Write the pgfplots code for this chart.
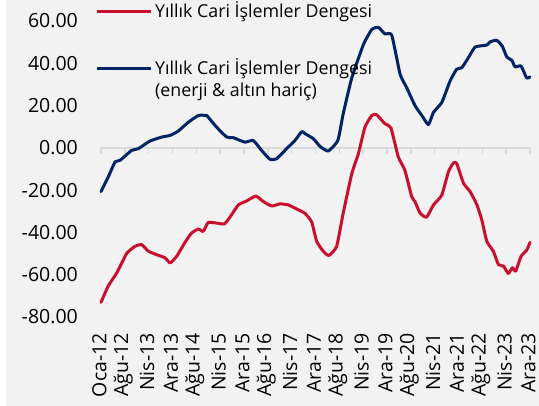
\documentclass[border=0pt]{standalone}
\usepackage{pgfplots}
\pgfplotsset{compat=1.18}
\usepackage{fontspec}
\setmainfont{Open Sans}
\definecolor{cabred}{RGB}{200,16,46}
\definecolor{cabblue}{RGB}{0,36,100}
\definecolor{bg}{RGB}{242,242,242}
\definecolor{zl}{RGB}{217,217,217}
\begin{document}
\begin{tikzpicture}[x=1pt,y=1pt]
\path[use as bounding box] (0,0) rectangle (539,406);
\fill[white] (0,0) rectangle (539,406);
\fill[bg] (6,0) rectangle (539,406);
\begin{axis}[
  at={(101pt,89pt)}, anchor=south west,
  scale only axis, width=429pt, height=296pt,
  xmin=0, xmax=144, ymin=-80, ymax=60,
  axis line style={draw=none},
  major tick length=0pt,
  xtick={0,8,...,144},
  xticklabels={Oca-12,Ağu-12,Nis-13,Ara-13,Ağu-14,Nis-15,Ara-15,Ağu-16,Nis-17,Ara-17,Ağu-18,Nis-19,Ara-19,Ağu-20,Nis-21,Ara-21,Ağu-22,Nis-23,Ara-23},
  xticklabel style={xshift=-1.5pt, rotate=90, anchor=east, inner sep=0pt, font=\fontsize{19.5}{22}\selectfont},
  ytick={-80,-60,-40,-20,0,20,40,60},
  yticklabels={-80.00,-60.00,-40.00,-20.00,0.00,20.00,40.00,60.00},
  yticklabel style={anchor=east, inner sep=0pt, font=\fontsize{19.5}{22}\selectfont},
  xticklabel shift=16pt, yticklabel shift=23pt,
  clip=false,
]
\draw[zl, line width=1.5pt] (axis cs:0,0) -- (axis cs:144,0);
\pgfplotsinvokeforeach{0,8,...,144}{\draw[zl, line width=1.5pt] (axis cs:#1,0) -- ++(0pt,-6pt);}
\addplot[cabred, line width=3pt, line join=round, line cap=round, smooth, tension=0.3] coordinates {
(0,-73.1)(2.45,-65.3)(5.3,-59.1)(8.6,-50)(11.4,-46.6)(13.7,-45.8)(15.9,-48.9)(19.2,-50.8)(21.5,-52)(23.2,-54.4)(25.4,-51.3)(28.2,-44.7)(30.4,-40.3)(32.7,-38.4)(34.3,-39.5)(36.0,-35.3)(38.8,-35.6)(41.5,-35.9)(43.8,-31.7)(46.1,-27)(48.9,-25.1)(52.0,-22.8)(54.5,-25.4)(57.3,-27.5)(60.1,-26.5)(62.9,-27)(65.1,-28.5)(66.8,-29.7)(68.5,-31)(70.7,-35)(72.4,-44.2)(74.6,-48.9)(76.5,-50.9)(79.1,-46.6)(81.3,-30.9)(84.2,-12.1)(86.4,-2.7)(88.6,9.8)(90.9,15.3)(92.5,15.7)(95.3,11.4)(97.3,9.5)(99.8,-4.3)(102.0,-10.6)(104.3,-23.1)(105.4,-25.4)(107.1,-30.9)(109.3,-32.8)(111.6,-27)(114.4,-22.3)(116.6,-11.4)(118.3,-7.1)(119.4,-7.4)(121.7,-16.8)(123.9,-20.7)(126.2,-27)(127.8,-34)(129.5,-44.2)(131.7,-48.9)(133.4,-55.2)(135.1,-55.9)(136.7,-59.4)(138.1,-56.7)(139.2,-58.3)(141.0,-51.3)(142.9,-48.4)(144,-44.7)
};
\addplot[cabblue, line width=3pt, line join=round, line cap=round, smooth, tension=0.3] coordinates {
(0,-20.7)(2.45,-13.7)(4.7,-6.7)(6.4,-5.9)(10.3,-1.2)(12.5,-0.4)(16.4,3.2)(20.4,5.1)(23.2,5.9)(25.9,7.9)(29.3,12.1)(32.7,15.3)(35.5,15.3)(36.0,14.5)(38.8,9.8)(42.2,5.1)(44.4,4.8)(48.3,2.7)(51.1,3.5)(53.9,-1.2)(56.7,-5.4)(59.0,-5.1)(62.3,-0.4)(65.1,3.5)(67.4,7.7)(68.5,6.7)(71.3,4.3)(73.5,0.7)(76.3,-1.5)(79.5,3.5)(81.3,16.1)(84.2,33.2)(88.1,48.9)(90.9,56)(93.1,57)(95.3,53.9)(97.6,53.3)(100.4,34.8)(102.6,28.5)(105.4,20)(107.7,15.3)(109.9,11)(111.6,16.8)(114.4,21.5)(117.2,31.7)(119.4,37.2)(121.1,37.9)(123.3,42.6)(125.6,47.7)(129.5,48.6)(130.6,50.1)(132.8,50.9)(134.7,48.1)(136.2,43)(137.9,41.4)(139.0,38.3)(141.0,38.7)(142.9,33)(144,33.6)
};
\end{axis}
\draw[cabred, line width=3pt] (97,394.3) -- (151,394.3);
\node[anchor=base west, inner sep=0pt, font=\fontsize{17.8}{22}\selectfont] at (155,388.5) {Yıllık Cari İşlemler Dengesi};
\draw[cabblue, line width=3pt] (97,337) -- (151,337);
\node[anchor=base west, inner sep=0pt, font=\fontsize{17.8}{22}\selectfont] at (155,331.5) {Yıllık Cari İşlemler Dengesi};
\node[anchor=base west, inner sep=0pt, font=\fontsize{17.8}{22}\selectfont] at (155,309.5) {(enerji \& altın hariç)};
\end{tikzpicture}
\end{document}
